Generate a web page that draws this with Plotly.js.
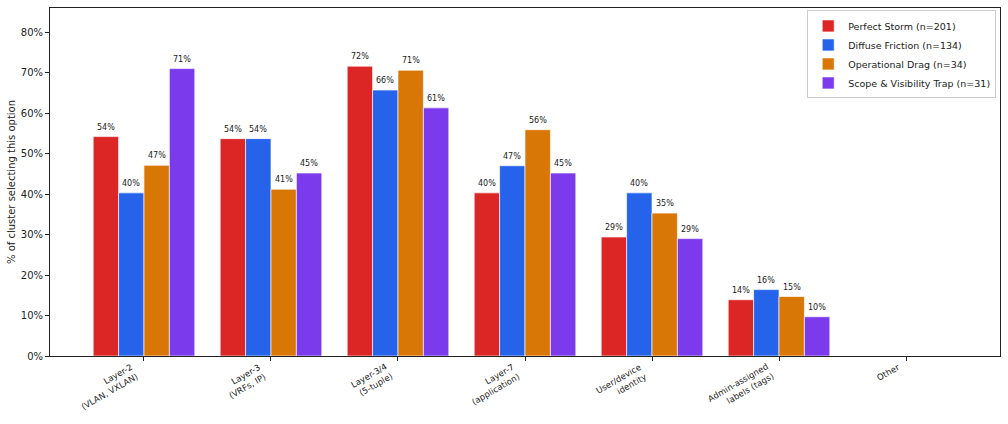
<!DOCTYPE html>
<html>
<head>
<meta charset="utf-8">
<script src="https://cdn.plot.ly/plotly-3.0.1.min.js"></script>
<style>
html,body{margin:0;padding:0;background:#fff;}
#chart{width:1008px;height:424px;}
</style>
</head>
<body>
<div id="chart"></div>
<script>
const categories = [
  "Layer-2<br>(VLAN, VXLAN)",
  "Layer-3<br>(VRFs, IP)",
  "Layer-3/4<br>(5-tuple)",
  "Layer-7<br>(application)",
  "User/device<br>identity",
  "Admin-assigned<br>labels (tags)",
  "Other"
];
const seriesNames = [
  "Perfect Storm (n=201)",
  "Diffuse Friction (n=134)",
  "Operational Drag (n=34)",
  "Scope & Visibility Trap (n=31)"
];
const perfectStorm      = [54.2, 53.7, 71.6, 40.3, 29.4, 13.9, 0];
const diffuseFriction   = [40.3, 53.7, 65.7, 47.0, 40.3, 16.4, 0];
const operationalDrag   = [47.1, 41.2, 70.6, 55.9, 35.3, 14.7, 0];
const scopeVisibility   = [71.0, 45.2, 61.3, 45.2, 29.0, 9.7, 0];
const colors = ["#dc2626", "#2563eb", "#d97706", "#7c3aed"];
const yTickVals = [0, 10, 20, 30, 40, 50, 60, 70, 80];

const allSeries = [perfectStorm, diffuseFriction, operationalDrag, scopeVisibility];
const xIdx = categories.map((_, i) => i);

const traces = allSeries.map((vals, j) => ({
  type: "bar",
  name: seriesNames[j],
  x: xIdx,
  y: vals,
  marker: {color: colors[j], line: {color: "rgba(255,255,255,0.8)", width: 0.8}},
  hoverinfo: "skip"
}));

const annotations = [];
allSeries.forEach((vals, j) => {
  vals.forEach((v, i) => {
    if (v > 0) {
      annotations.push({
        x: i + (j - 1.5) * 0.2,
        y: v,
        xref: "x", yref: "y",
        text: Math.round(v) + "%",
        showarrow: false,
        yanchor: "bottom",
        yshift: 3,
        font: {size: 8, color: "#222", family: "DejaVu Sans"}
      });
    }
  });
});
// category tick labels (rotated, anchored at their top-right corner like matplotlib ha='right')
categories.forEach((c, i) => {
  annotations.push({
    x: i, y: 0, xref: "x", yref: "paper",
    text: c, showarrow: false,
    textangle: -30, align: "right",
    xanchor: "right", yanchor: "top",
    xshift: -1, yshift: -3,
    font: {size: 8.5, color: "#222", family: "DejaVu Sans"}
  });
});

const layout = {
  width: 1008, height: 424,
  margin: {l: 50, r: 8, t: 8, b: 68},
  paper_bgcolor: "#fff", plot_bgcolor: "#fff",
  font: {family: "DejaVu Sans", color: "#222", size: 10},
  barmode: "group",
  bargap: 0.2,
  bargroupgap: 0,
  showlegend: true,
  legend: {
    x: 0.996, y: 0.993, xanchor: "right", yanchor: "top",
    bgcolor: "rgba(255,255,255,0.9)", bordercolor: "#cccccc", borderwidth: 1,
    font: {size: 9.5, family: "DejaVu Sans", color: "#222"},
    tracegroupgap: 0, itemwidth: 30
  },
  xaxis: {
    type: "linear",
    range: [-0.74, 6.74],
    tickvals: xIdx,
    showticklabels: false,
    ticks: "outside", ticklen: 4, tickcolor: "#222",
    showgrid: false, zeroline: false,
    showline: true, linecolor: "#222", linewidth: 1, mirror: true
  },
  yaxis: {
    range: [0, 85.97],
    tickvals: yTickVals,
    ticktext: yTickVals.map(v => v + "%"),
    ticks: "outside", ticklen: 4, tickcolor: "#222",
    showgrid: false, zeroline: false,
    showline: true, linecolor: "#222", linewidth: 1, mirror: true,
    tickfont: {size: 10, color: "#222"},
    title: {text: "% of cluster selecting this option", font: {size: 10, color: "#222"}, standoff: 3}
  },
  annotations: annotations
};

Plotly.newPlot("chart", traces, layout, {displayModeBar: false, staticPlot: true});
</script>
</body>
</html>
